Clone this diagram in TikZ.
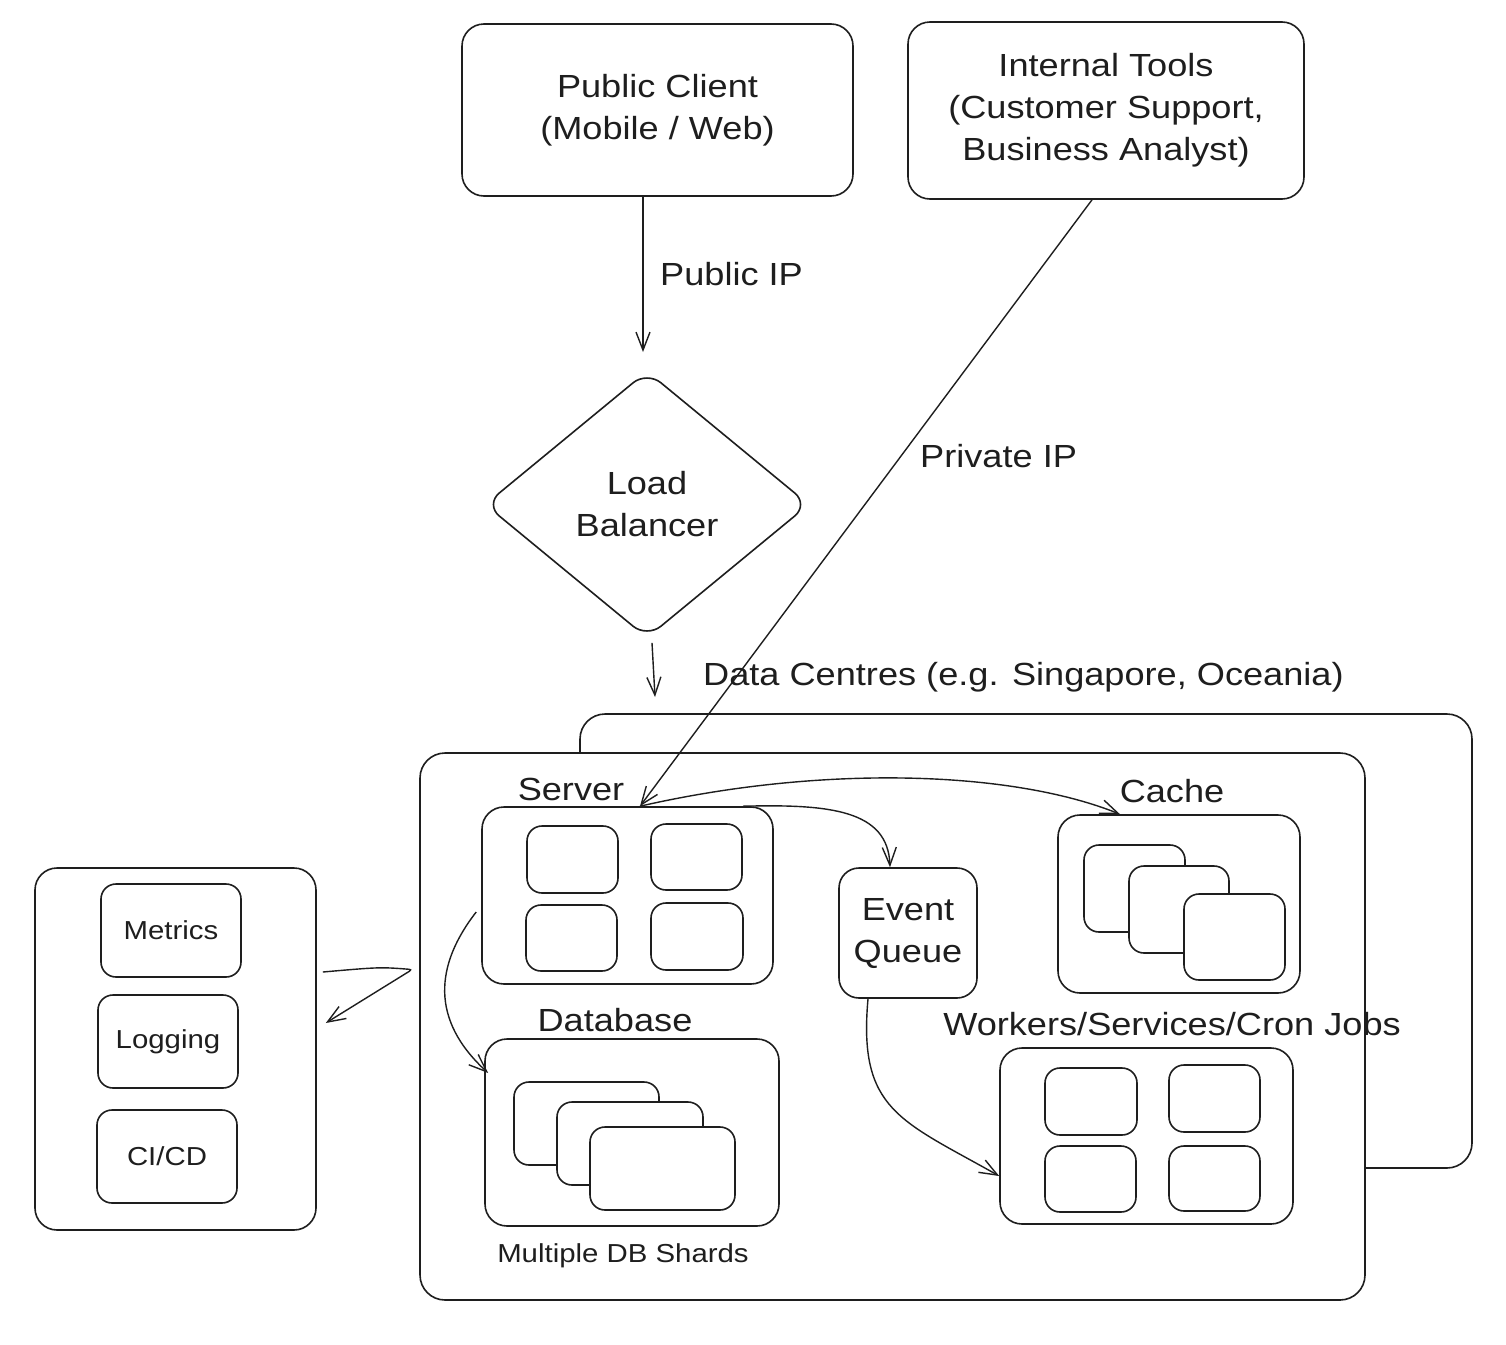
\documentclass[tikz,border=0pt]{standalone}
\usepackage{fontspec}
\setmainfont{Liberation Sans}[FakeStretch=1.13]
\usetikzlibrary{arrows.meta,shapes.geometric}
\definecolor{ink}{HTML}{1E1E1E}
\begin{document}
\begin{tikzpicture}[x=1pt,y=-1pt,
  box/.style={draw=ink, line width=1.6pt, rounded corners=22pt, fill=white, inner sep=0pt, align=center, text=ink, font=\fontsize{32}{42}\selectfont},
  sub/.style={box, rounded corners=15pt},
  lbl/.style={text=ink, font=\fontsize{32}{42}\selectfont, inner sep=0pt},
  small/.style={text=ink, font=\fontsize{26}{30}\selectfont, inner sep=0pt},
  arr/.style={draw=ink, line width=1.4pt, -{Straight Barb[length=18pt,width=14pt]}}]
\fill[white] (0,0) rectangle (1506,1344);
\useasboundingbox (0,0) rectangle (1506,1344);

% top boxes
\node[box, minimum width=391pt, minimum height=172pt] (pc) at (657.5,110) {Public Client\\(Mobile / Web)};
\node[box, minimum width=396pt, minimum height=177pt] (it) at (1106,110.5) {Internal Tools\\(Customer Support,\\Business Analyst)};

% load balancer
\node[draw=ink, line width=1.6pt, diamond, rounded corners=18pt, minimum width=324pt, minimum height=267pt, aspect=1.2135, inner sep=0pt, align=center, text=ink, font=\fontsize{32}{42}\selectfont] (lb) at (647,504.5) {Load\\Balancer};

\coordinate (lbin) at (643,352);
\coordinate (dcin) at (655,697);
\draw[arr] ([xshift=-14.5pt]pc.south) -- (lbin);
\node[lbl, anchor=west] (pubip) at (660,274) {Public IP};
\draw[arr] ([shift={(5pt,-4pt)}]lb.south) -- (dcin);

% data centres
\node[box, rounded corners=25pt, minimum width=892pt, minimum height=454pt] (dcb) at (1026,941) {};
\node[box, rounded corners=25pt, minimum width=945pt, minimum height=547pt] (dcf) at (892.5,1026.5) {};
\node[lbl, anchor=west] (dclbl) at (703,677) {Data Centres (e.g. Singapore, Oceania)};
\node[lbl, anchor=west] (privip) at (920,456) {Private IP};

% server
\node[lbl] (srvlbl) at (571,789) {Server};
\node[box, minimum width=291pt, minimum height=177pt] (srv) at (627.5,895.5) {};
\node[sub, minimum width=91pt, minimum height=67pt] (s1) at (572.5,859.5) {};
\node[sub, minimum width=91pt, minimum height=66pt] (s2) at (696.5,857) {};
\node[sub, minimum width=91pt, minimum height=66pt] (s3) at (571.5,938) {};
\node[sub, minimum width=92pt, minimum height=67pt] (s4) at (697,936.5) {};

% event queue
\node[box, rounded corners=20pt, minimum width=138pt, minimum height=130pt] (eq) at (908,933) {Event\\Queue};

% cache
\node[lbl] (cachelbl) at (1172,791) {Cache};
\node[box, minimum width=242pt, minimum height=178pt] (cache) at (1179,904) {};
\node[sub, minimum width=101pt, minimum height=87pt] (c1) at (1134.5,888.5) {};
\node[sub, minimum width=100pt, minimum height=87pt] (c2) at (1179,909.5) {};
\node[sub, minimum width=101pt, minimum height=86pt] (c3) at (1234.5,937) {};

% workers
\node[lbl] (wklbl) at (1172,1024) {Workers/Services/Cron Jobs};
\node[box, minimum width=293pt, minimum height=176pt] (wk) at (1146.5,1136) {};
\node[sub, minimum width=92pt, minimum height=67pt] (w1) at (1091,1101.5) {};
\node[sub, minimum width=91pt, minimum height=67pt] (w2) at (1214.5,1098.5) {};
\node[sub, minimum width=91pt, minimum height=66pt] (w3) at (1090.5,1179) {};
\node[sub, minimum width=91pt, minimum height=65pt] (w4) at (1214.5,1178.5) {};

% database
\node[lbl] (dblbl) at (615,1020) {Database};
\node[box, minimum width=294pt, minimum height=187pt] (db) at (632,1132.5) {};
\node[sub, minimum width=145pt, minimum height=83pt] (d1) at (586.5,1123.5) {};
\node[sub, minimum width=146pt, minimum height=83pt] (d2) at (630,1143.5) {};
\node[sub, minimum width=145pt, minimum height=83pt] (d3) at (662.5,1168.5) {};
\node[small] (shards) at (623,1256) {Multiple DB Shards};

% ops box
\node[box, minimum width=281pt, minimum height=362pt] (ops) at (175.5,1049) {};
\node[sub, minimum width=140pt, minimum height=93pt, font=\fontsize{26}{30}\selectfont] (met) at (171,930.5) {Metrics};
\node[sub, minimum width=140pt, minimum height=93pt, font=\fontsize{26}{30}\selectfont] (log) at (168,1041.5) {Logging};
\node[sub, minimum width=140pt, minimum height=93pt, font=\fontsize{26}{30}\selectfont] (cicd) at (167,1156.5) {CI/CD};

% connectors inside data centre
\draw[arr] ([xshift=12.5pt]srv.north) .. controls (820,765) and (1010,770) .. ([xshift=-59pt]cache.north);
\draw[arr] ([xshift=115.5pt]srv.north) .. controls (830,804) and (888,810) .. ([xshift=-18pt]eq.north);
\draw[arr] ([shift={(-5pt,-16.5pt)}]srv.west) .. controls (435,965) and (430,1020) .. ([shift={(4pt,59.5pt)}]db.west);
\draw[arr] ([xshift=-40pt]eq.south) .. controls (858,1110) and (900,1120) .. ([yshift=-40pt]wk.west);
\coordinate (turn) at ([shift={(-7pt,57pt)}]dcf.west);
\draw[arr, rounded corners=3pt] ([shift={(6pt,77pt)}]ops.east) .. controls (380,967) .. (turn) -- ([shift={(9pt,26pt)}]ops.east);

% private IP
\draw[arr] ([xshift=-14pt]it.south) -- ([xshift=12.5pt]srv.north);
\end{tikzpicture}
\end{document}
